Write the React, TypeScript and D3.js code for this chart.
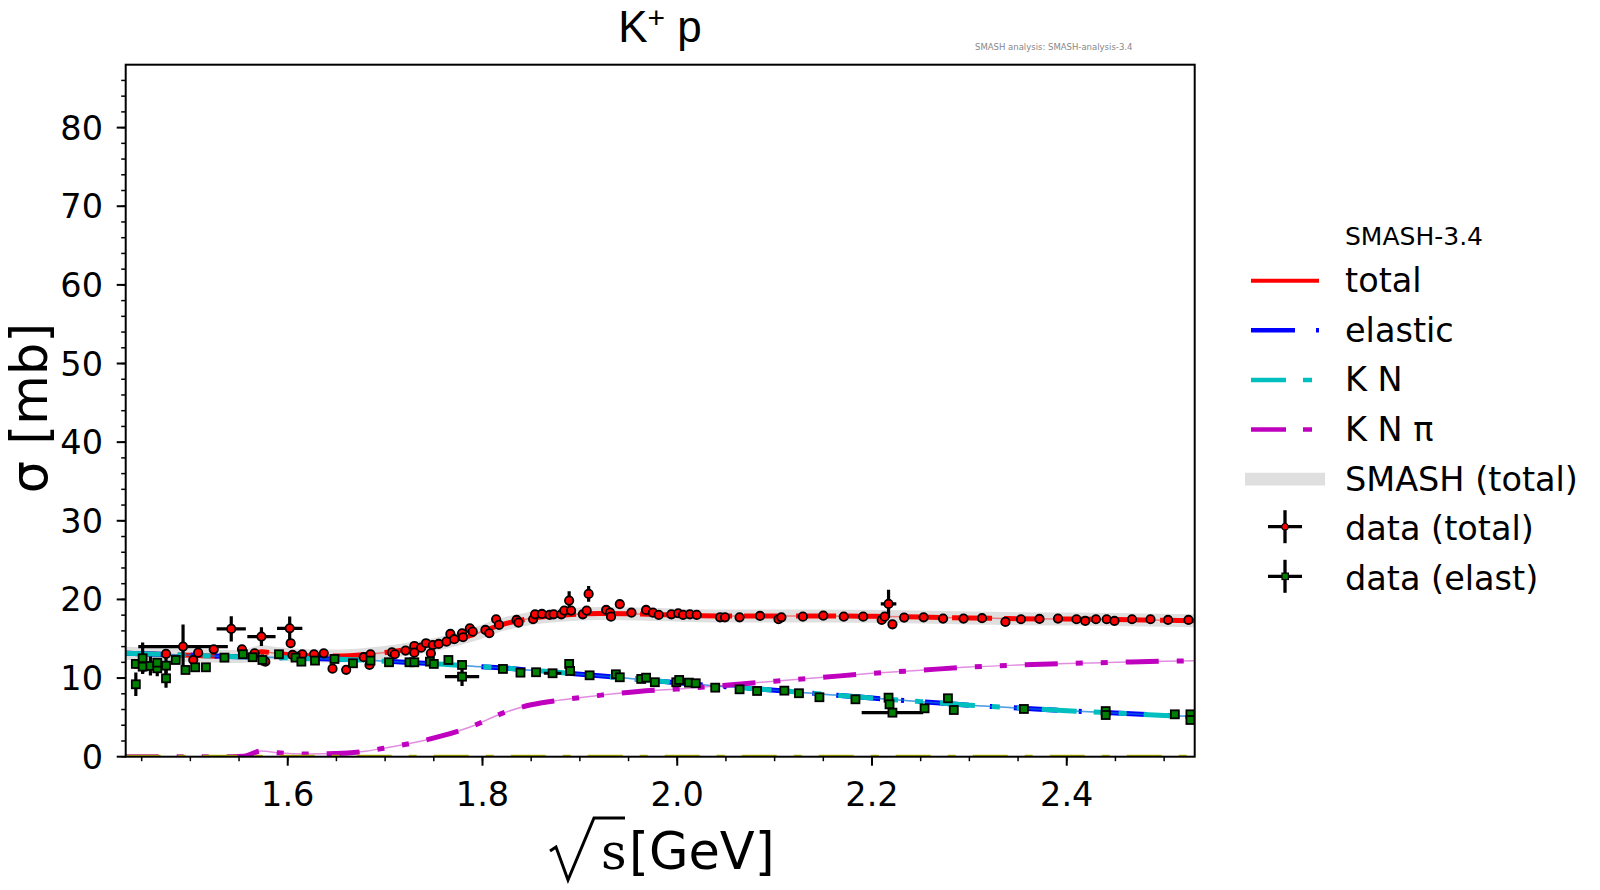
import * as d3 from 'd3';
import React, { useEffect, useRef } from 'react';

// K+ p cross sections, SMASH vs data

const xDomain = [1.4336, 2.5314];
const yDomain = [0, 88];
const xTicks = [1.6, 1.8, 2.0, 2.2, 2.4];
const yTicks = [0, 10, 20, 30, 40, 50, 60, 70, 80];

// SMASH curves
const curveX = [1.4336, 1.46, 1.50, 1.54, 1.555, 1.573, 1.59, 1.62, 1.65, 1.68, 1.70, 1.73, 1.76, 1.79, 1.82, 1.85, 1.88, 1.92, 1.96, 2.00, 2.05, 2.10, 2.15, 2.20, 2.25, 2.30, 2.35, 2.40, 2.45, 2.50, 2.5314];
const totalCurve = [13.15, 13.05, 12.9, 12.75, 12.75, 13.35, 13.1, 12.85, 12.8, 13.0, 13.25, 13.8, 14.5, 15.5, 16.8, 17.6, 18.0, 18.2, 18.15, 18.0, 17.9, 17.9, 17.9, 17.85, 17.75, 17.65, 17.55, 17.5, 17.45, 17.35, 17.3];
const elasticCurve = [13.15, 13.05, 12.9, 12.75, 12.7, 12.65, 12.6, 12.5, 12.4, 12.3, 12.15, 11.95, 11.75, 11.5, 11.3, 11.0, 10.7, 10.3, 9.85, 9.4, 8.9, 8.45, 7.95, 7.45, 7.0, 6.55, 6.2, 5.85, 5.55, 5.25, 5.1];
const knCurve = [13.15, 13.05, 12.9, 12.75, 12.7, 12.65, 12.6, 12.5, 12.4, 12.3, 12.15, 11.95, 11.75, 11.5, 11.3, 11.0, 10.7, 10.3, 9.85, 9.4, 8.9, 8.45, 7.95, 7.45, 7.0, 6.55, 6.2, 5.85, 5.55, 5.25, 5.1];
const knpiCurve = [0, 0, 0, 0, 0.05, 0.73, 0.5, 0.35, 0.4, 0.7, 1.1, 1.8, 2.7, 3.9, 5.5, 6.6, 7.2, 7.8, 8.3, 8.6, 9.1, 9.6, 10.1, 10.6, 11.0, 11.4, 11.65, 11.85, 12.0, 12.15, 12.2];
const zeroCurve = [0, 0];

// data (total)
const totX = [1.452, 1.475, 1.4925, 1.503, 1.508, 1.524, 1.542, 1.553, 1.566, 1.573, 1.577, 1.602, 1.603, 1.605, 1.611, 1.615, 1.627, 1.637, 1.646, 1.660, 1.678, 1.685, 1.684, 1.707, 1.710, 1.721, 1.730, 1.730, 1.737, 1.742, 1.747, 1.749, 1.755, 1.763, 1.767, 1.771, 1.779, 1.780, 1.787, 1.790, 1.803, 1.807, 1.814, 1.817, 1.835, 1.837, 1.852, 1.854, 1.861, 1.869, 1.873, 1.881, 1.884, 1.889, 1.891, 1.903, 1.907, 1.909, 1.927, 1.931, 1.932, 1.941, 1.953, 1.968, 1.975, 1.981, 1.994, 2.001, 2.006, 2.013, 2.020, 2.044, 2.049, 2.064, 2.085, 2.104, 2.107, 2.129, 2.150, 2.171, 2.191, 2.210, 2.213, 2.217, 2.221, 2.233, 2.253, 2.273, 2.294, 2.313, 2.337, 2.353, 2.372, 2.391, 2.410, 2.419, 2.430, 2.441, 2.449, 2.467, 2.486, 2.504, 2.525];
const totY = [11.45, 13.07, 14.0, 12.3, 13.23, 13.66, 16.25, 13.66, 13.15, 15.27, 12.09, 16.33, 14.43, 12.94, 12.72, 13.03, 13.03, 13.15, 11.2, 11.05, 12.65, 13.03, 11.67, 13.28, 13.03, 13.49, 14.08, 13.23, 13.87, 14.43, 13.15, 14.2, 14.34, 14.63, 15.61, 14.94, 15.7, 15.19, 16.33, 15.9, 16.12, 15.7, 17.48, 16.76, 17.39, 17.05, 17.48, 18.11, 18.15, 18.03, 18.11, 18.11, 18.58, 19.85, 18.58, 18.11, 18.58, 20.7, 18.66, 18.32, 17.81, 19.39, 18.32, 18.66, 18.32, 18.03, 18.11, 18.24, 18.03, 18.11, 18.03, 17.73, 17.73, 17.73, 17.9, 17.48, 17.73, 17.81, 17.94, 17.81, 17.81, 17.39, 17.81, 19.43, 16.84, 17.69, 17.73, 17.56, 17.56, 17.61, 17.14, 17.48, 17.52, 17.56, 17.48, 17.26, 17.48, 17.48, 17.26, 17.48, 17.48, 17.39, 17.39];
const totYErr = [0.3, 0.4, 2.8, 0.4, 0.4, 0.4, 1.6, 0.3, 0.3, 1.2, 0.3, 1.5, 0.4, 0.3, 0.3, 0.3, 0.3, 0.3, 0.3, 0.3, 0.3, 0.3, 0.3, 0.3, 0.3, 0.3, 0.3, 0.3, 0.3, 0.3, 0.3, 0.3, 0.3, 0.3, 0.3, 0.3, 0.3, 0.3, 0.3, 0.3, 0.3, 0.3, 0.3, 0.3, 0.3, 0.3, 0.3, 0.3, 0.3, 0.3, 0.3, 0.3, 0.3, 1.2, 0.3, 0.3, 0.3, 1.0, 0.3, 0.3, 0.3, 0.5, 0.3, 0.3, 0.3, 0.3, 0.3, 0.3, 0.3, 0.3, 0.3, 0.3, 0.3, 0.3, 0.3, 0.3, 0.3, 0.3, 0.3, 0.3, 0.3, 0.3, 0.3, 1.8, 0.3, 0.3, 0.3, 0.3, 0.3, 0.3, 0.3, 0.3, 0.3, 0.3, 0.3, 0.3, 0.3, 0.3, 0.3, 0.3, 0.3, 0.3, 0.3];
const totXErr = [0, 0, 0.046, 0, 0, 0, 0.015, 0, 0, 0.0145, 0, 0.013, 0, 0, 0, 0, 0, 0, 0, 0, 0, 0, 0, 0, 0, 0, 0, 0, 0, 0, 0, 0, 0, 0, 0, 0, 0, 0, 0, 0, 0, 0, 0, 0, 0, 0, 0, 0, 0, 0, 0, 0, 0, 0, 0, 0, 0, 0, 0, 0, 0, 0, 0, 0, 0, 0, 0, 0, 0, 0.006, 0, 0, 0, 0, 0, 0, 0, 0, 0, 0, 0, 0, 0, 0.008, 0, 0, 0, 0, 0, 0, 0, 0, 0, 0, 0, 0, 0, 0, 0, 0, 0, 0, 0];

// data (elast)
const elX = [1.444, 1.444, 1.451, 1.451, 1.459, 1.466, 1.466, 1.475, 1.475, 1.485, 1.495, 1.505, 1.516, 1.535, 1.554, 1.564, 1.574, 1.591, 1.608, 1.614, 1.628, 1.648, 1.667, 1.685, 1.704, 1.725, 1.730, 1.746, 1.750, 1.765, 1.779, 1.779, 1.821, 1.839, 1.855, 1.872, 1.889, 1.890, 1.910, 1.937, 1.941, 1.963, 1.968, 1.977, 1.999, 2.002, 2.012, 2.019, 2.039, 2.064, 2.082, 2.110, 2.125, 2.146, 2.183, 2.217, 2.218, 2.221, 2.254, 2.278, 2.284, 2.356, 2.440, 2.440, 2.511, 2.527, 2.527];
const elY = [9.21, 11.8, 12.52, 11.45, 11.54, 11.24, 11.96, 11.58, 9.97, 12.3, 11.03, 11.37, 11.37, 12.6, 13.03, 12.65, 12.3, 13.03, 12.6, 12.09, 12.22, 12.43, 11.88, 12.22, 12.01, 12.01, 12.01, 12.09, 11.8, 12.3, 11.67, 10.18, 11.16, 10.69, 10.74, 10.61, 11.8, 10.9, 10.35, 10.48, 10.1, 9.89, 10.05, 9.47, 9.47, 9.76, 9.42, 9.34, 8.78, 8.57, 8.36, 8.4, 8.07, 7.56, 7.3, 7.51, 6.66, 5.6, 6.15, 7.43, 5.94, 6.07, 5.8, 5.3, 5.39, 5.39, 4.67];
const elYErr = [1.5, 0.6, 2.0, 0.8, 1.2, 1.0, 0.6, 1.0, 1.2, 0.4, 0.4, 0.5, 0.3, 0.3, 0.3, 0.3, 0.7, 0.3, 0.3, 0.3, 0.3, 0.3, 0.3, 0.5, 0.3, 0.3, 0.3, 0.3, 0.5, 0.3, 0.3, 1.2, 0.3, 0.3, 0.3, 0.4, 0.3, 0.3, 0.3, 0.3, 0.3, 0.3, 0.3, 0.3, 0.3, 0.3, 0.3, 0.3, 0.3, 0.3, 0.3, 0.3, 0.3, 0.3, 0.3, 0.3, 0.3, 0.3, 0.3, 0.3, 0.3, 0.3, 0.4, 0.3, 0.3, 0.3, 0.3];
const elXErr = [0, 0, 0, 0, 0, 0, 0, 0, 0, 0, 0, 0, 0, 0, 0, 0, 0, 0, 0, 0, 0, 0, 0, 0, 0, 0, 0, 0, 0, 0, 0, 0.0176, 0, 0, 0, 0.009, 0, 0, 0, 0, 0, 0, 0, 0, 0, 0, 0, 0, 0, 0, 0, 0, 0, 0, 0, 0, 0, 0.0316, 0, 0, 0, 0, 0, 0, 0, 0, 0];

const legendLabels = ['total', 'elastic', 'K N', 'K N \u03c0', 'SMASH (total)', 'data (total)', 'data (elast)'];

export default () => {
    const ref = useRef<any>();

    useEffect(() => {
        const svg = d3.select<any, any>(ref.current);
        svg.selectAll('*').remove();

        const dims = { left: 125.7, right: 1194.7, top: 64.7, bottom: 756.7 };
        const font = 'DejaVu Sans';

        const x = d3.scaleLinear().domain(xDomain).range([dims.left, dims.right]);
        const y = d3.scaleLinear().domain(yDomain).range([dims.bottom, dims.top]);

        svg.append('defs').append('clipPath').attr('id', 'plotclip')
            .append('rect')
            .attr('x', dims.left).attr('y', dims.top)
            .attr('width', dims.right - dims.left).attr('height', dims.bottom - dims.top);

        const plot = svg.append('g').attr('clip-path', 'url(#plotclip)');

        const line = d3.line<number>()
            .x((_d, i) => x(curveX[i]))
            .y((d) => y(d))
            .curve(d3.curveMonotoneX);

        // SMASH (total) band
        plot.append('path').attr('d', line(totalCurve) as any)
            .attr('fill', 'none').attr('stroke', '#dfdfdf').attr('stroke-width', 13);

        const curves: any[] = [
            { values: totalCurve, color: '#ff0000', dash: '40 12' },
            { values: elasticCurve, color: '#0000ff', dash: '44 21 3 21' },
            { values: knCurve, color: '#00bfbf', dash: '35 17 8 17 8 17' },
            { values: knpiCurve, color: '#bf00bf', dash: '33 18 7 18 7 18' },
        ];
        curves.forEach((c) => {
            plot.append('path').attr('d', line(c.values) as any)
                .attr('fill', 'none').attr('stroke', c.color).attr('stroke-width', 1.5).attr('opacity', 0.45);
            plot.append('path').attr('d', line(c.values) as any)
                .attr('fill', 'none').attr('stroke', c.color).attr('stroke-width', 5)
                .attr('stroke-dasharray', c.dash);
        });

        // channel with zero cross section
        plot.append('line')
            .attr('x1', x(xDomain[0])).attr('x2', x(xDomain[1]))
            .attr('y1', y(zeroCurve[0])).attr('y2', y(zeroCurve[1]))
            .attr('stroke', '#bfbf00').attr('stroke-width', 4)
            .attr('stroke-dasharray', '35 17 8 17');

        // data points with error bars
        const drawData = (xs: number[], ys: number[], yErr: number[], xErr: number[], shape: string, fill: string) => {
            const g = plot.append('g');
            xs.forEach((xv, i) => {
                g.append('line')
                    .attr('x1', x(xv)).attr('x2', x(xv))
                    .attr('y1', y(ys[i] - yErr[i])).attr('y2', y(ys[i] + yErr[i]))
                    .attr('stroke', 'black').attr('stroke-width', 3.2);
                if (xErr[i] > 0) {
                    g.append('line')
                        .attr('x1', x(xv - xErr[i])).attr('x2', x(xv + xErr[i]))
                        .attr('y1', y(ys[i])).attr('y2', y(ys[i]))
                        .attr('stroke', 'black').attr('stroke-width', 3.2);
                }
            });
            xs.forEach((xv, i) => {
                if (shape === 'circle') {
                    g.append('circle').attr('cx', x(xv)).attr('cy', y(ys[i])).attr('r', 4.2)
                        .attr('fill', fill).attr('stroke', 'black').attr('stroke-width', 1.8);
                } else {
                    g.append('rect').attr('x', x(xv) - 4).attr('y', y(ys[i]) - 4)
                        .attr('width', 8).attr('height', 8)
                        .attr('fill', fill).attr('stroke', 'black').attr('stroke-width', 1.8);
                }
            });
        };
        drawData(totX, totY, totYErr, totXErr, 'circle', '#ff0000');
        drawData(elX, elY, elYErr, elXErr, 'square', '#008000');

        // axes box
        svg.append('rect')
            .attr('x', dims.left).attr('y', dims.top)
            .attr('width', dims.right - dims.left).attr('height', dims.bottom - dims.top)
            .attr('fill', 'none').attr('stroke', 'black').attr('stroke-width', 2);

        const axes = svg.append('g');
        d3.range(1.45, 2.53, 0.05).forEach((t) => {
            axes.append('line').attr('x1', x(t)).attr('x2', x(t))
                .attr('y1', dims.bottom).attr('y2', dims.bottom + 4.5)
                .attr('stroke', 'black').attr('stroke-width', 1.5);
        });
        xTicks.forEach((t) => {
            axes.append('line').attr('x1', x(t)).attr('x2', x(t))
                .attr('y1', dims.bottom).attr('y2', dims.bottom + 9)
                .attr('stroke', 'black').attr('stroke-width', 2);
            axes.append('text').attr('x', x(t)).attr('y', 806)
                .attr('text-anchor', 'middle').attr('font-family', font).attr('font-size', 33.5)
                .text(d3.format('.1f')(t));
        });
        d3.range(0, 88, 2).forEach((t) => {
            axes.append('line').attr('x1', dims.left - 4.5).attr('x2', dims.left)
                .attr('y1', y(t)).attr('y2', y(t))
                .attr('stroke', 'black').attr('stroke-width', 1.5);
        });
        yTicks.forEach((t) => {
            axes.append('line').attr('x1', dims.left - 9).attr('x2', dims.left)
                .attr('y1', y(t)).attr('y2', y(t))
                .attr('stroke', 'black').attr('stroke-width', 2);
            axes.append('text').attr('x', 103).attr('y', y(t) + 12)
                .attr('text-anchor', 'end').attr('font-family', font).attr('font-size', 33.5)
                .text(t);
        });

        // axis labels
        svg.append('text')
            .attr('transform', 'translate(47, 408) rotate(-90)')
            .attr('text-anchor', 'middle').attr('font-family', font).attr('font-size', 51)
            .text('\u03c3 [mb]');

        svg.append('path')
            .attr('d', 'M 550 851 L 556 847 L 568 880 L 594 818 L 625 818')
            .attr('fill', 'none').attr('stroke', 'black').attr('stroke-width', 3)
            .attr('stroke-linejoin', 'miter');
        svg.append('text').attr('x', 601).attr('y', 869)
            .attr('font-family', 'DejaVu Serif').attr('font-size', 50).text('s');
        svg.append('text').attr('x', 629).attr('y', 869)
            .attr('font-family', font).attr('font-size', 51).text('[GeV]');

        // title
        const title = svg.append('text').attr('x', 660).attr('y', 42)
            .attr('text-anchor', 'middle').attr('font-family', 'Liberation Sans').attr('font-size', 44);
        title.append('tspan').text('K');
        title.append('tspan').attr('dy', -14).attr('font-size', 30).text('+');
        title.append('tspan').attr('dy', 14).text(' p');

        svg.append('text').attr('x', 975).attr('y', 50)
            .attr('font-family', font).attr('font-size', 8.5).attr('fill', '#888')
            .text('SMASH analysis: SMASH-analysis-3.4');

        // legend
        const leg = svg.append('g');
        leg.append('text').attr('x', 1345).attr('y', 245)
            .attr('font-family', font).attr('font-size', 25).text('SMASH-3.4');
        const rowY = (i: number) => 280.7 + i * 49.6;
        legendLabels.forEach((lab, i) => {
            leg.append('text').attr('x', 1345).attr('y', rowY(i) + 11.5)
                .attr('font-family', font).attr('font-size', 33.5).text(lab);
        });
        leg.append('line').attr('x1', 1251).attr('x2', 1319).attr('y1', rowY(0)).attr('y2', rowY(0))
            .attr('stroke', '#ff0000').attr('stroke-width', 4);
        leg.append('line').attr('x1', 1251).attr('x2', 1319).attr('y1', rowY(1)).attr('y2', rowY(1))
            .attr('stroke', '#0000ff').attr('stroke-width', 4.5).attr('stroke-dasharray', '44 21 3 21');
        leg.append('line').attr('x1', 1251).attr('x2', 1312).attr('y1', rowY(2)).attr('y2', rowY(2))
            .attr('stroke', '#00bfbf').attr('stroke-width', 4.5).attr('stroke-dasharray', '35 17 9 17');
        leg.append('line').attr('x1', 1251).attr('x2', 1312).attr('y1', rowY(3)).attr('y2', rowY(3))
            .attr('stroke', '#bf00bf').attr('stroke-width', 4.5).attr('stroke-dasharray', '35 17 9 17');
        leg.append('line').attr('x1', 1245).attr('x2', 1325).attr('y1', rowY(4)).attr('y2', rowY(4))
            .attr('stroke', '#dfdfdf').attr('stroke-width', 12.7);
        [5, 6].forEach((i) => {
            const cy = rowY(i) - 2;
            leg.append('line').attr('x1', 1268).attr('x2', 1302).attr('y1', cy).attr('y2', cy)
                .attr('stroke', 'black').attr('stroke-width', 3.3);
            leg.append('line').attr('x1', 1285).attr('x2', 1285).attr('y1', cy - 16.5).attr('y2', cy + 16.5)
                .attr('stroke', 'black').attr('stroke-width', 3.3);
            if (i === 5) {
                leg.append('circle').attr('cx', 1285).attr('cy', cy).attr('r', 3.2)
                    .attr('fill', '#ff0000').attr('stroke', 'black').attr('stroke-width', 1.2);
            } else {
                leg.append('rect').attr('x', 1282).attr('y', cy - 3.2).attr('width', 6.4).attr('height', 6.4)
                    .attr('fill', '#008000').attr('stroke', 'black').attr('stroke-width', 1.2);
            }
        });
    }, []);

    return (
        <div style={{ position: 'absolute', left: 0, top: 0, background: 'white' }}>
            <svg ref={ref} width={1600} height={890}></svg>
        </div>
    );
};
